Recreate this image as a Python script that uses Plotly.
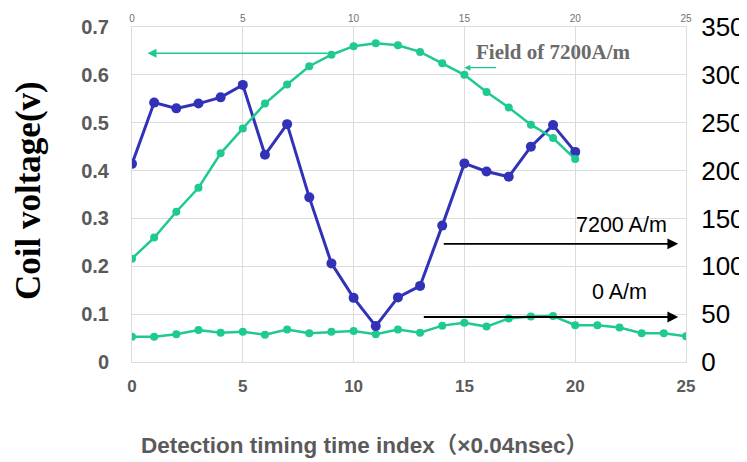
import plotly.graph_objects as go

# ---- data ----
t_field = list(range(0, 21))
field_7200 = [108, 130, 157, 182, 218, 244, 270, 290, 309, 321, 330, 333,
              331, 324, 312, 300, 282, 266, 248, 234, 212]          # right axis units

t_coil = list(range(0, 21))
coil_7200 = [0.414, 0.542, 0.530, 0.540, 0.553, 0.579, 0.433, 0.497, 0.344, 0.206,
             0.134, 0.075, 0.135, 0.159, 0.285, 0.415, 0.398, 0.387, 0.450, 0.495, 0.439]

t_zero = list(range(0, 26))
coil_0 = [0.053, 0.053, 0.058, 0.067, 0.061, 0.063, 0.057, 0.068, 0.060, 0.063,
          0.065, 0.058, 0.068, 0.061, 0.076, 0.082, 0.074, 0.091, 0.095, 0.096,
          0.077, 0.077, 0.072, 0.060, 0.060, 0.054]

x_ticks = [0, 5, 10, 15, 20, 25]
left_ticks = [0, 0.1, 0.2, 0.3, 0.4, 0.5, 0.6, 0.7]
left_labels = ["0", "0.1", "0.2", "0.3", "0.4", "0.5", "0.6", "0.7"]
right_ticks = [0, 50, 100, 150, 200, 250, 300, 350]

BLUE = "#3232b8"
GREEN = "#1fc992"
GRID = "#dcdcdc"
GRAY = "#5a5a5a"
SANS = "Liberation Sans, Arial"

fig = go.Figure()
fig.add_trace(go.Scatter(x=t_zero, y=coil_0, mode="lines+markers",
                         line=dict(color=GREEN, width=2.5),
                         marker=dict(color=GREEN, size=8), showlegend=False))
fig.add_trace(go.Scatter(x=t_field, y=field_7200, mode="lines+markers",
                         xaxis="x2", yaxis="y2",
                         line=dict(color=GREEN, width=2.5),
                         marker=dict(color=GREEN, size=8), showlegend=False))
fig.add_trace(go.Scatter(x=t_coil, y=coil_7200, mode="lines+markers",
                         line=dict(color=BLUE, width=3),
                         marker=dict(color=BLUE, size=10), showlegend=False))

fig.update_layout(
    width=739, height=454,
    margin=dict(l=124, r=61, t=19, b=100),
    paper_bgcolor="white", plot_bgcolor="white",
    xaxis=dict(range=[0, 25], tickvals=x_ticks, showgrid=True, gridcolor=GRID,
               zeroline=False, showline=True, linecolor=GRID, automargin=False,
               tickfont=dict(family=SANS, size=17, color=GRAY, weight="bold"),
               ticks="", ticklabelstandoff=9),
    yaxis=dict(range=[0, 0.7], tickvals=left_ticks, ticktext=left_labels,
               showgrid=True, gridcolor=GRID,
               zeroline=False, showline=True, linecolor=GRID, automargin=False,
               tickfont=dict(family=SANS, size=20, color=GRAY, weight="bold"),
               ticks="", ticklabelstandoff=18),
    xaxis2=dict(range=[0, 25], tickvals=x_ticks, overlaying="x", side="top",
                anchor="y2", showgrid=False, zeroline=False, showline=True,
                linecolor=GRID, ticks="", automargin=False,
                tickfont=dict(family=SANS, size=10, color="#707070")),
    yaxis2=dict(range=[0, 350], tickvals=right_ticks, overlaying="y", side="right",
                anchor="x2", showgrid=False, zeroline=False, showline=True,
                linecolor=GRID, ticks="", ticklabelstandoff=9, automargin=False,
                tickfont=dict(family=SANS, size=26, color="black")),
)

# axis titles as annotations
fig.add_annotation(x=-0.188, y=0.513, xref="paper", yref="paper", text="<b>Coil voltage(v)</b>",
                   showarrow=False, textangle=-90, xanchor="center", yanchor="middle",
                   font=dict(family="Liberation Serif", size=35, color="black"))
fig.add_annotation(x=0.419, y=-0.248, xref="paper", yref="paper",
                   text="<b>Detection timing time index（×0.04nsec）</b>",
                   showarrow=False, xanchor="center", yanchor="middle",
                   font=dict(family=SANS + ", Noto Sans CJK JP", size=22.5, color=GRAY))

# left-pointing green arrow
fig.add_annotation(x=0.7, y=0.645, ax=8.9, ay=0.645, xref="x", yref="y",
                   axref="x", ayref="y", text="", showarrow=True,
                   arrowhead=2, arrowsize=1.2, arrowwidth=1.5, arrowcolor=GREEN)
# Field label
fig.add_annotation(x=19.0, y=0.648, xref="x", yref="y", text="<b>Field of 7200A/m</b>",
                   showarrow=False, font=dict(family="Liberation Serif", size=21, color="#6a6a6a"))
fig.add_annotation(x=15.0, y=0.615, ax=16.5, ay=0.615, xref="x", yref="y",
                   axref="x", ayref="y", text="", showarrow=True,
                   arrowhead=2, arrowsize=1, arrowwidth=1.2, arrowcolor=GREEN)
# 7200 A/m
fig.add_annotation(x=22.1, y=0.286, xref="x", yref="y", text="7200 A/m",
                   showarrow=False, font=dict(family=SANS, size=21.5, color="black"))
fig.add_annotation(x=24.65, y=0.247, ax=14.0, ay=0.247, xref="x", yref="y",
                   axref="x", ayref="y", text="", showarrow=True,
                   arrowhead=2, arrowsize=1.2, arrowwidth=1.8, arrowcolor="black")
# 0 A/m
fig.add_annotation(x=22.0, y=0.146, xref="x", yref="y", text="0 A/m",
                   showarrow=False, font=dict(family=SANS, size=21.5, color="black"))
fig.add_annotation(x=24.65, y=0.094, ax=13.1, ay=0.094, xref="x", yref="y",
                   axref="x", ayref="y", text="", showarrow=True,
                   arrowhead=2, arrowsize=1.2, arrowwidth=1.8, arrowcolor="black")

fig.write_html("out.html")
